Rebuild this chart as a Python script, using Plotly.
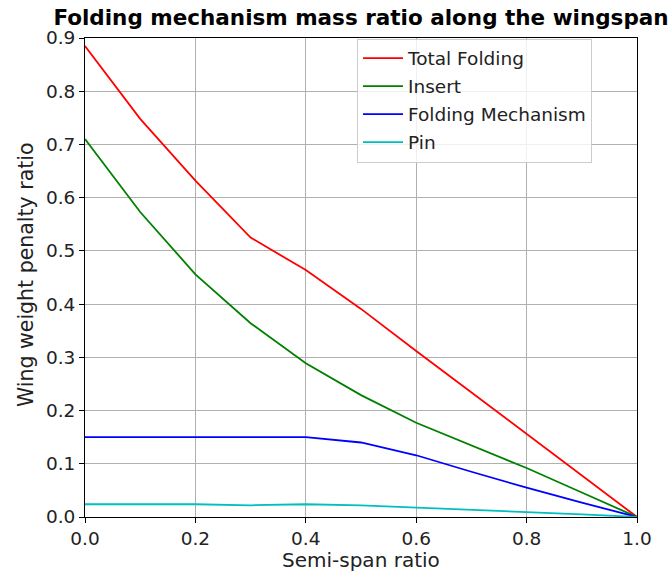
import plotly.graph_objects as go

semi_span = [0.0, 0.1, 0.2, 0.3, 0.4, 0.5, 0.6, 0.7, 0.8, 0.9, 1.0]
total_folding = [0.885, 0.748, 0.632, 0.525, 0.464, 0.391, 0.312, 0.234, 0.157, 0.078, 0.0]
insert = [0.710, 0.573, 0.456, 0.364, 0.289, 0.229, 0.177, 0.134, 0.092, 0.046, 0.0]
folding_mechanism = [0.150, 0.150, 0.150, 0.150, 0.150, 0.140, 0.116, 0.085, 0.055, 0.027, 0.0]
pin = [0.024, 0.024, 0.024, 0.022, 0.024, 0.022, 0.018, 0.013, 0.009, 0.005, 0.0]

x_ticks = [0, 0.2, 0.4, 0.6, 0.8, 1.0]
x_tick_labels = ["0.0", "0.2", "0.4", "0.6", "0.8", "1.0"]
y_ticks = [0, 0.1, 0.2, 0.3, 0.4, 0.5, 0.6, 0.7, 0.8, 0.9]
y_tick_labels = ["0.0", "0.1", "0.2", "0.3", "0.4", "0.5", "0.6", "0.7", "0.8", "0.9"]

series = [
    ("Total Folding", total_folding, "#ff0000"),
    ("Insert", insert, "#008000"),
    ("Folding Mechanism", folding_mechanism, "#0000ff"),
    ("Pin", pin, "#00bfbf"),
]

FONT = "DejaVu Sans"
fig = go.Figure()
for i, (name, vals, color) in enumerate(series):
    fig.add_trace(go.Scatter(
        x=semi_span, y=vals, mode="lines", name=name,
        line=dict(color=color, width=1.8),
        legendgroup=f"g{i}",
    ))

axis_common = dict(
    showline=True, mirror=True, linecolor="black", linewidth=1,
    ticks="outside", ticklen=5, tickcolor="black", tickwidth=1,
    showgrid=True, gridcolor="#b0b0b0", gridwidth=1,
    zeroline=False, automargin=False,
    tickfont=dict(family=FONT, size=18.5, color="#222222"),
)

# plot area in pixels: x 85..637, y 38..517
PX_L, PX_R, PX_T, PX_B = 85, 637, 38, 517
PW, PH = PX_R - PX_L, PX_B - PX_T

fig.update_layout(
    width=668, height=574,
    margin=dict(l=PX_L, r=668 - PX_R, t=PX_T, b=574 - PX_B, autoexpand=False),
    paper_bgcolor="white", plot_bgcolor="white",
    font=dict(family=FONT, size=18.5, color="black"),
    title=dict(
        text="<b>Folding mechanism mass ratio along the wingspan</b>",
        font=dict(family=FONT, size=21.5, color="black"),
        x=(PX_L + PX_R) / 2 / 668, xanchor="center",
        y=1 - 17.5 / 574, yanchor="middle", yref="container",
    ),
    xaxis=dict(range=[0, 1], tickvals=x_ticks, ticktext=x_tick_labels, **axis_common),
    yaxis=dict(range=[0, 0.9], tickvals=y_ticks, ticktext=y_tick_labels, **axis_common),
    legend=dict(
        x=(357 - PX_L) / PW, y=1 - 0.5 / PH, xanchor="left", yanchor="top",
        bgcolor="rgba(255,255,255,0.8)", bordercolor="#cccccc", borderwidth=1,
        font=dict(family=FONT, size=18.5, color="#222222"),
        tracegroupgap=1, itemwidth=40,
    ),
    showlegend=True,
    annotations=[
        dict(text="Semi-span ratio", xref="paper", yref="paper",
             x=0.5, y=(PX_B - 560) / PH, xanchor="center", yanchor="middle",
             showarrow=False, font=dict(family=FONT, size=20, color="#222222")),
        dict(text="Wing weight penalty ratio", xref="paper", yref="paper",
             x=(26 - PX_L) / PW, y=(PX_B - 275) / PH, xanchor="center", yanchor="middle",
             textangle=-90, showarrow=False, font=dict(family=FONT, size=20.5, color="#222222")),
    ],
)

fig.write_html("out.html")
